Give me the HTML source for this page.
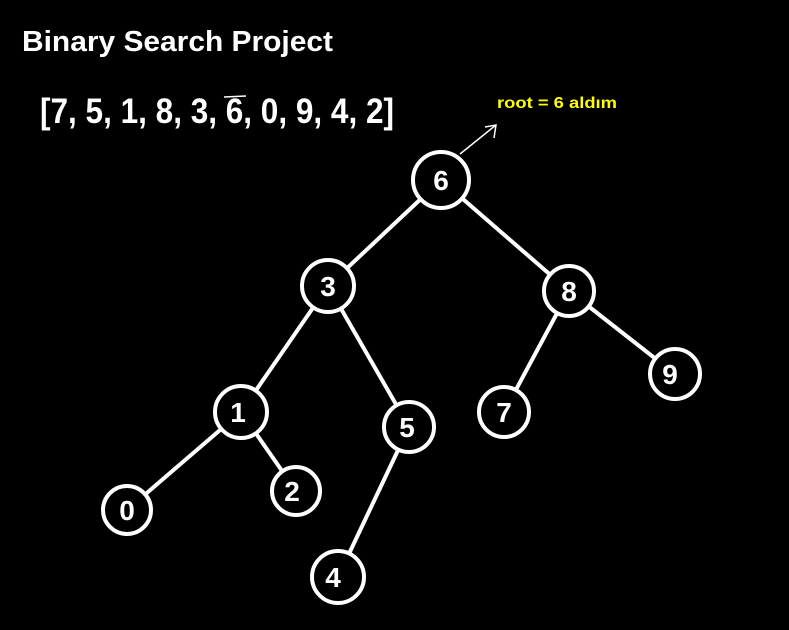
<!DOCTYPE html>
<html><head><style>html,body{margin:0;padding:0;background:#000;}svg{display:block}</style></head>
<body>
<svg width="789" height="630" xmlns="http://www.w3.org/2000/svg" font-family="Liberation Sans, sans-serif" font-weight="bold">
<rect width="789" height="630" fill="#000"/>
<text x="22" y="51" fill="#fff" font-size="29" textLength="311" lengthAdjust="spacingAndGlyphs">Binary Search Project</text>
<text x="40" y="123" fill="#fff" font-size="35" textLength="354" lengthAdjust="spacingAndGlyphs">[7, 5, 1, 8, 3, 6, 0, 9, 4, 2]</text>
<line x1="224" y1="97" x2="246" y2="96" stroke="#fff" stroke-width="1.5"/>
<text x="497" y="108" fill="#ff0" font-size="16" textLength="120" lengthAdjust="spacingAndGlyphs">root = 6 aldım</text>
<g stroke="#fff" stroke-width="1.5" fill="none">
<line x1="460" y1="154" x2="496" y2="125"/>
<polyline points="485,127 496,125 494,138"/>
</g>
<g stroke="#fff" stroke-width="4">
<line x1="441" y1="180" x2="328" y2="286"/>
<line x1="441" y1="180" x2="569" y2="291"/>
<line x1="328" y1="286" x2="241" y2="412"/>
<line x1="328" y1="286" x2="409" y2="427"/>
<line x1="569" y1="291" x2="504" y2="412"/>
<line x1="569" y1="291" x2="675" y2="374"/>
<line x1="241" y1="412" x2="127" y2="510"/>
<line x1="241" y1="412" x2="296" y2="491"/>
<line x1="409" y1="427" x2="338" y2="577"/>
</g>
<g fill="#000" stroke="#fff" stroke-width="4">
<circle cx="441" cy="180" r="28"/>
<circle cx="328" cy="286" r="26"/>
<circle cx="569" cy="291" r="25"/>
<circle cx="241" cy="412" r="26"/>
<circle cx="409" cy="427" r="25"/>
<circle cx="504" cy="412" r="25"/>
<circle cx="675" cy="374" r="25"/>
<circle cx="127" cy="510" r="24"/>
<circle cx="296" cy="491" r="24"/>
<circle cx="338" cy="577" r="26"/>
</g>
<g fill="#fff" font-size="28" text-anchor="middle">
<text x="441" y="190">6</text>
<text x="328" y="296">3</text>
<text x="569" y="301">8</text>
<text x="238" y="422">1</text>
<text x="407" y="437">5</text>
<text x="504" y="422">7</text>
<text x="670" y="384">9</text>
<text x="127" y="520">0</text>
<text x="292" y="501">2</text>
<text x="333" y="587">4</text>
</g>
</svg>
</body></html>
